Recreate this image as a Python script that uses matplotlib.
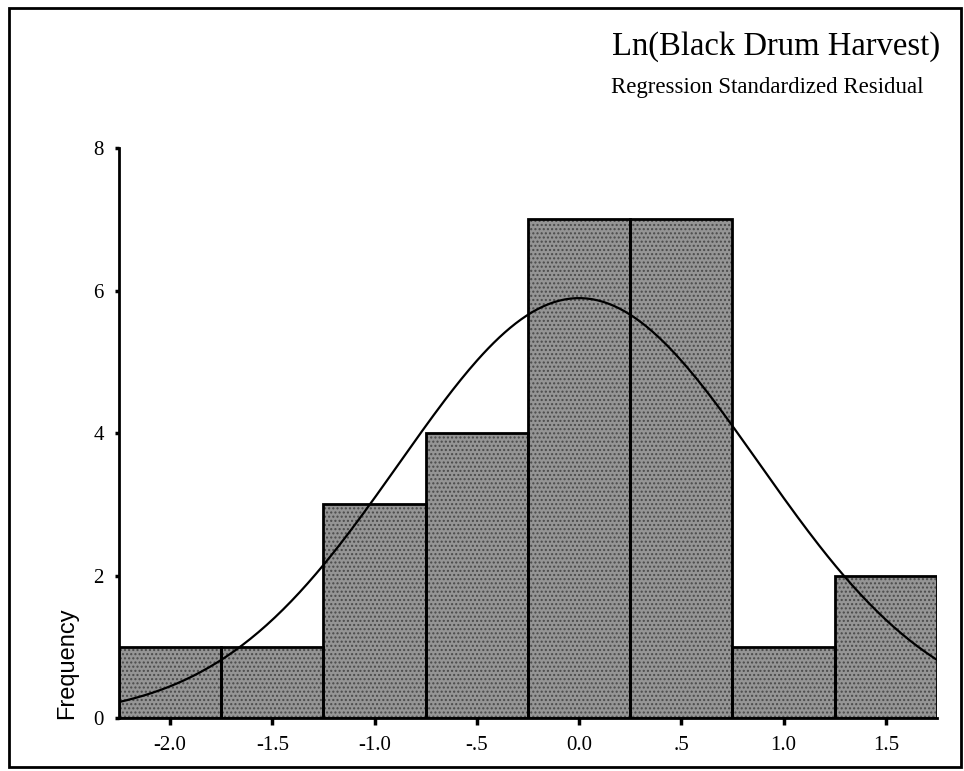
import numpy as np
import matplotlib
matplotlib.use("Agg")
import matplotlib.pyplot as plt
from matplotlib.patches import Rectangle

# histogram of regression standardized residuals
bin_edges = [-2.25, -1.75, -1.25, -0.75, -0.25, 0.25, 0.75, 1.25, 1.75]
counts = [1, 1, 3, 4, 7, 7, 1, 2]
x_ticks = [-2.0, -1.5, -1.0, -0.5, 0.0, 0.5, 1.0, 1.5]
x_tick_labels = ["-2.0", "-1.5", "-1.0", "-.5", "0.0", ".5", "1.0", "1.5"]
y_ticks = [0, 2, 4, 6, 8]

# fitted normal curve (SPSS style), parameters
resid_mean = 0.0
resid_sd = 0.88

fig = plt.figure(figsize=(9.64, 7.71), dpi=100)
ax = fig.add_axes([0.1234, 0.0687, 0.8486, 0.7393])

serif = "Liberation Serif"

widths = np.diff(bin_edges)
lefts = np.array(bin_edges[:-1])

# fill with a dotted "halftone" look, then black outlines on top
ax.bar(lefts, counts, width=widths, align="edge", color="#959595",
       edgecolor="#4a4a4a", linewidth=0, hatch="....", zorder=1)
ax.bar(lefts, counts, width=widths, align="edge", fill=False,
       edgecolor="black", linewidth=2.0, zorder=2)

n = sum(counts)
bw = widths[0]
xs = np.linspace(bin_edges[0], bin_edges[-1], 300)
ys = n * bw / (resid_sd * np.sqrt(2 * np.pi)) * np.exp(-0.5 * ((xs - resid_mean) / resid_sd) ** 2)
ax.plot(xs, ys, color="black", linewidth=1.6, zorder=3)

ax.set_xlim(bin_edges[0], bin_edges[-1])
ax.set_ylim(0, 8)
ax.set_xticks(x_ticks)
ax.set_xticklabels(x_tick_labels, fontfamily=serif, fontsize=15)
ax.set_yticks(y_ticks)
ax.set_yticklabels([str(v) for v in y_ticks], fontfamily=serif, fontsize=15)
ax.tick_params(axis="x", direction="out", length=5, width=2.5, pad=8)
ax.tick_params(axis="y", direction="out", length=3, width=2.5, pad=8)

for s in ["top", "right"]:
    ax.spines[s].set_visible(False)
for s in ["left", "bottom"]:
    ax.spines[s].set_linewidth(2.0)

# titles
fig.text(0.975, 0.939, "Ln(Black Drum Harvest)", ha="right", va="center",
         fontfamily=serif, fontsize=23.5)
fig.text(0.958, 0.886, "Regression Standardized Residual", ha="right", va="center",
         fontfamily=serif, fontsize=16.5)
fig.text(0.070, 0.14, "Frequency", rotation=90, ha="center", va="center",
         fontfamily="Liberation Sans", fontsize=17)

# outer frame
fig.patches.append(Rectangle((0.009, 0.005), 0.988, 0.985, transform=fig.transFigure,
                             fill=False, edgecolor="black", linewidth=2.0))

fig.savefig("out.png", dpi=100)
